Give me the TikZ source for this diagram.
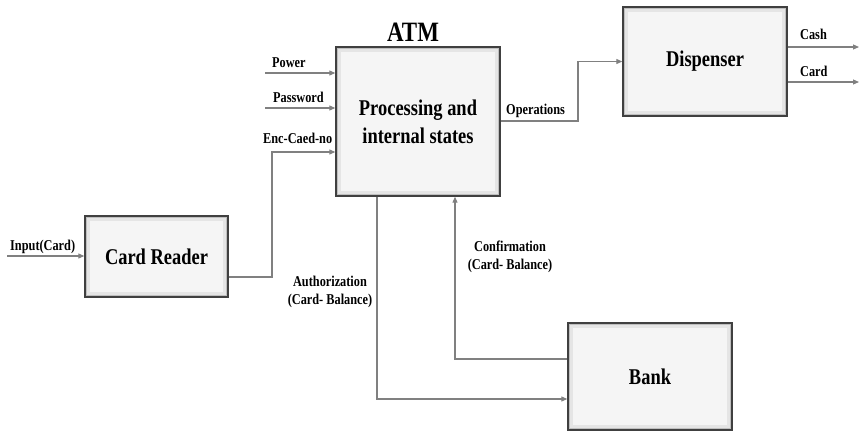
\documentclass[tikz,border=0pt]{standalone}
\usepackage{fontspec}
\setmainfont{Liberation Serif}[FakeStretch=0.82]
\usetikzlibrary{arrows.meta}
\tikzset{
  block/.style={draw=black!75, line width=1.4pt, fill=black!4, align=center, inner sep=0pt,
    font=\fontsize{22.5}{28}\selectfont\bfseries,
    path picture={
      \draw[black!10, line width=10pt] (path picture bounding box.south west) rectangle (path picture bounding box.north east);
      \draw[black!25, line width=4pt] (path picture bounding box.south west) rectangle (path picture bounding box.north east);}},
  flow/.style={draw=black!50, line width=1.1pt, -{Triangle[length=6pt,width=5pt]}},
  lbl/.style={font=\fontsize{15}{18}\selectfont\bfseries, align=center, inner sep=0pt}
}
\begin{document}
\begin{tikzpicture}[x=1pt,y=-1pt]
\useasboundingbox[fill=white] (0,0) rectangle (863,437);

\node[block, minimum width=164pt, minimum height=149pt] (atm) at (418,121.5) {Processing and\\internal states};
\node[block, minimum width=143pt, minimum height=81pt] (reader) at (156.5,256.5) {Card Reader};
\node[block, minimum width=164pt, minimum height=109pt] (disp) at (705,61.5) {Dispenser};
\node[block, minimum width=164pt, minimum height=107pt] (bank) at (650,376.5) {Bank};
\node[font=\fontsize{28}{30}\selectfont\bfseries, anchor=base] (title) at (413,41) {ATM};

\coordinate (pw) at (265,73);
\coordinate (pa) at (265,108);
\coordinate (inp) at (7,256);
\coordinate (cash) at (859,47);
\coordinate (card) at (859,82);

\draw[flow] (pw) -- (pw -| atm.west);
\draw[flow] (pa) -- (pa -| atm.west);
\draw[flow] (inp) -- (inp -| reader.west);
\draw[flow] (reader.east |- 0,277) -- (272,277) |- (atm.west |- 0,152);
\draw[flow] (atm.east |- 0,121) -- (578,121) |- (disp.west);
\draw[flow] (disp.east |- cash) -- (cash);
\draw[flow] (disp.east |- card) -- (card);
\draw[flow] (atm.south -| 377,0) |- (bank.west |- 0,399);
\draw[flow] (bank.west |- 0,359) -| (atm.south -| 455,0);

\node[lbl, anchor=base west] (pwl) at (272,67) {Power};
\node[lbl, anchor=base west] (pal) at (273,102) {Password};
\node[lbl, anchor=base west] (encl) at (263,143) {Enc-Caed-no};
\node[lbl, anchor=base west] (inpl) at (10,250) {Input(Card)};
\node[lbl, anchor=base west] (opl) at (506,114) {Operations};
\node[lbl, anchor=base west] (cashl) at (800,39) {Cash};
\node[lbl, anchor=base west] (cardl) at (800,76) {Card};
\node[lbl] (authl) at (330,292) {Authorization\\(Card- Balance)};
\node[lbl] (confl) at (510,257) {Confirmation\\(Card- Balance)};
\end{tikzpicture}
\end{document}
